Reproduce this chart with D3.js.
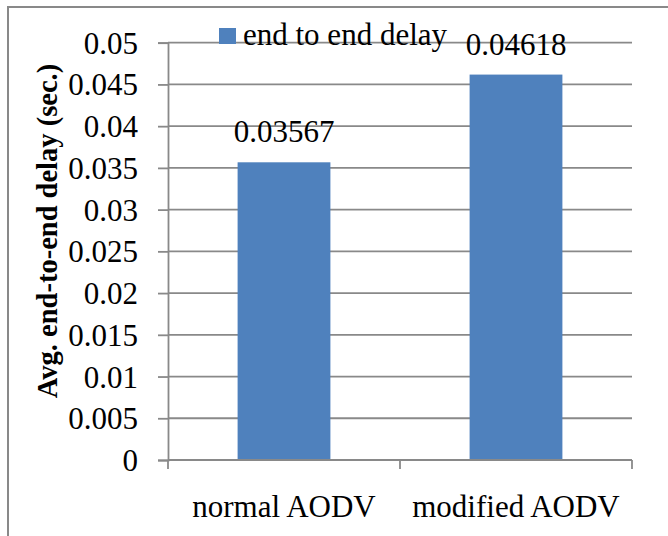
<!DOCTYPE html>
<html>
<head>
<meta charset="utf-8">
<script src="https://cdn.jsdelivr.net/npm/d3@7"></script>
<style>
  html, body { margin: 0; padding: 0; background: #fff; }
  svg { display: block; }
  text { font-family: "Liberation Serif", "Times New Roman", serif; fill: #000; }
</style>
</head>
<body>
<script>
// Average end-to-end delay per protocol variant
const categories = ["normal AODV", "modified AODV"];
const delayValues = [0.03567, 0.04618];
const valueLabels = ["0.03567", "0.04618"];
const yTicks = [0, 0.005, 0.01, 0.015, 0.02, 0.025, 0.03, 0.035, 0.04, 0.045, 0.05];
const yTickLabels = ["0", "0.005", "0.01", "0.015", "0.02", "0.025", "0.03", "0.035", "0.04", "0.045", "0.05"];
const seriesName = "end to end delay";
const yTitle = "Avg. end-to-end delay (sec.)";

const W = 668, H = 536;
const plot = { left: 168, right: 632, top: 42.7, bottom: 460 };
const gridColor = "#898989";
const barColor = "#4f81bd";

const svg = d3.select("body").append("svg")
  .attr("width", W).attr("height", H);

// outer chart frame
svg.append("rect")
  .attr("x", 8).attr("y", 7)
  .attr("width", 700).attr("height", 600)
  .attr("fill", "none").attr("stroke", gridColor).attr("stroke-width", 2);

const x = d3.scaleBand()
  .domain(categories)
  .range([plot.left, plot.right])
  .paddingInner(0.6)
  .paddingOuter(0.3);

const y = d3.scaleLinear()
  .domain([0, 0.05])
  .range([plot.bottom, plot.top]);

// horizontal gridlines
svg.append("g").selectAll("line")
  .data(yTicks.filter(d => d > 0))
  .join("line")
  .attr("x1", plot.left).attr("x2", plot.right)
  .attr("y1", d => y(d)).attr("y2", d => y(d))
  .attr("stroke", gridColor).attr("stroke-width", 1.8);

// bars
svg.append("g").selectAll("rect")
  .data(delayValues)
  .join("rect")
  .attr("x", (d, i) => x(categories[i]))
  .attr("width", x.bandwidth())
  .attr("y", d => y(d))
  .attr("height", d => y(0) - y(d))
  .attr("fill", barColor);

// y axis
const yAxis = d3.axisLeft(y)
  .tickValues(yTicks)
  .tickFormat((d, i) => yTickLabels[i])
  .tickSize(10)
  .tickPadding(20);
const gy = svg.append("g")
  .attr("transform", `translate(${plot.left},0)`)
  .call(yAxis);
gy.select(".domain").attr("stroke", gridColor).attr("stroke-width", 1.8);
gy.selectAll(".tick line").attr("stroke", gridColor).attr("stroke-width", 1.8);
gy.selectAll(".tick text")
  .attr("font-family", "Liberation Serif, serif")
  .attr("font-size", 31).attr("fill", "#000")
  .attr("dy", "0.34em");

// x axis with boundary ticks between categories
const gx = svg.append("g");
gx.append("line")
  .attr("x1", plot.left).attr("x2", plot.right)
  .attr("y1", plot.bottom).attr("y2", plot.bottom)
  .attr("stroke", gridColor).attr("stroke-width", 1.8);
const boundaries = [plot.left].concat(categories.map(c => x(c) + x.bandwidth() / 2 + x.step() / 2));
gx.selectAll("line.tick")
  .data(boundaries)
  .join("line").attr("class", "tick")
  .attr("x1", d => d).attr("x2", d => d)
  .attr("y1", plot.bottom).attr("y2", plot.bottom + 9)
  .attr("stroke", gridColor).attr("stroke-width", 1.8);
gx.selectAll("text")
  .data(categories)
  .join("text")
  .attr("x", d => x(d) + x.bandwidth() / 2)
  .attr("y", 517)
  .attr("text-anchor", "middle")
  .attr("font-size", 31)
  .text(d => d);

// value labels above bars
svg.append("g").selectAll("text")
  .data(delayValues)
  .join("text")
  .attr("x", (d, i) => x(categories[i]) + x.bandwidth() / 2)
  .attr("y", d => y(d) - 20)
  .attr("text-anchor", "middle")
  .attr("font-size", 31)
  .text((d, i) => valueLabels[i]);

// legend
const lg = svg.append("g").attr("transform", "translate(219,28)");
lg.append("rect").attr("width", 17).attr("height", 16).attr("fill", barColor);
lg.append("text").attr("x", 24).attr("y", 17)
  .attr("font-size", 31).text(seriesName);

// y axis title
svg.append("text")
  .attr("transform", "translate(57,231) rotate(-90)")
  .attr("text-anchor", "middle")
  .attr("font-size", 28.5)
  .attr("font-weight", "bold")
  .text(yTitle);
</script>
</body>
</html>
